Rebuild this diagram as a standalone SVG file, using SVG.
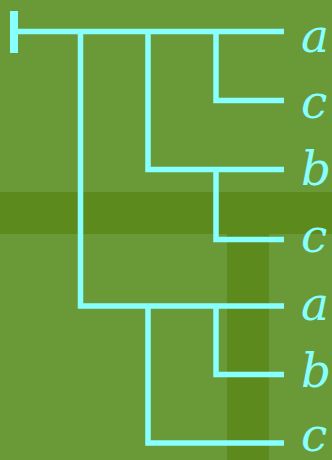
<svg xmlns="http://www.w3.org/2000/svg" width="332" height="460" viewBox="0 0 332 460">
<style>
.e{stroke:#88ffff;stroke-width:5.5;fill:none;stroke-linecap:butt;stroke-linejoin:miter}
.t{fill:#88ffff;font-family:"DejaVu Serif","Liberation Serif",serif;font-style:italic;font-size:47px}
</style>
<rect width="332" height="460" fill="#699a37"/>
<rect x="0" y="192" width="332" height="42" fill="#5c8a1c"/>
<rect x="227" y="234" width="42" height="226" fill="#5c8a1c"/>
<g id="edges">
<rect x="10" y="11" width="8" height="42" fill="#88ffff"/>
<path class="e" d="M18 31.5H284M216 31.5V100.5H284M148 31.5V169.5H284M216 169.5V239.5H284M80.5 31.5V306H284M216 306V374.5H284M148 306V443H284"/>
</g>
<g id="leaf1"><text class="t" x="301" y="52">a</text></g>
<g id="leaf2"><text class="t" x="301" y="118">c</text></g>
<g id="leaf3"><text class="t" x="301" y="185">b</text></g>
<g id="leaf4"><text class="t" x="301" y="252">c</text></g>
<g id="leaf5"><text class="t" x="301" y="320">a</text></g>
<g id="leaf6"><text class="t" x="301" y="387">b</text></g>
<g id="leaf7"><text class="t" x="301" y="451">c</text></g>
</svg>
